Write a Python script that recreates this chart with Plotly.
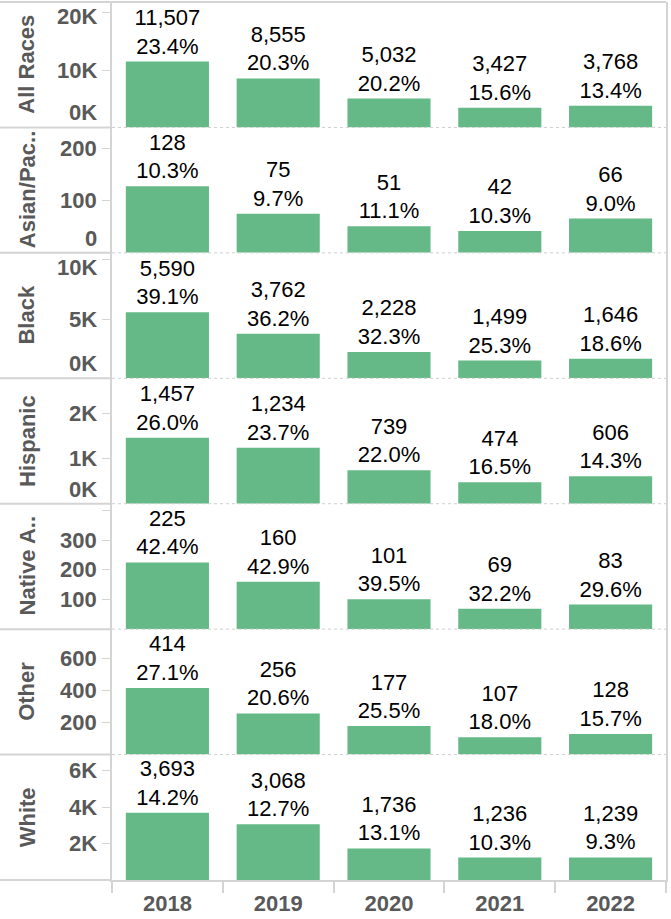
import plotly.graph_objects as go
from plotly.subplots import make_subplots

years = ["2018", "2019", "2020", "2021", "2022"]
races = ["All Races", "Asian/Pac..", "Black", "Hispanic", "Native A..", "Other", "White"]

counts_all = [11507, 8555, 5032, 3427, 3768]
counts_asian = [128, 75, 51, 42, 66]
counts_black = [5590, 3762, 2228, 1499, 1646]
counts_hispanic = [1457, 1234, 739, 474, 606]
counts_native = [225, 160, 101, 69, 83]
counts_other = [414, 256, 177, 107, 128]
counts_white = [3693, 3068, 1736, 1236, 1239]

pct_all = [23.4, 20.3, 20.2, 15.6, 13.4]
pct_asian = [10.3, 9.7, 11.1, 10.3, 9.0]
pct_black = [39.1, 36.2, 32.3, 25.3, 18.6]
pct_hispanic = [26.0, 23.7, 22.0, 16.5, 14.3]
pct_native = [42.4, 42.9, 39.5, 32.2, 29.6]
pct_other = [27.1, 20.6, 25.5, 18.0, 15.7]
pct_white = [14.2, 12.7, 13.1, 10.3, 9.3]

y_max = [21900, 241, 10600, 2770, 423, 780, 6900]
tick_vals = [
    [0, 10000, 20000],
    [0, 100, 200],
    [0, 5000, 10000],
    [0, 1000, 2000],
    [100, 200, 300, 400],
    [200, 400, 600],
    [2000, 4000, 6000],
]
tick_text = [
    ["0K", "10K", "20K"],
    ["0", "100", "200"],
    ["0K", "5K", "10K"],
    ["0K", "1K", "2K"],
    ["100", "200", "300", ""],
    ["200", "400", "600"],
    ["2K", "4K", "6K"],
]

counts = [counts_all, counts_asian, counts_black, counts_hispanic, counts_native, counts_other, counts_white]
pcts = [pct_all, pct_asian, pct_black, pct_hispanic, pct_native, pct_other, pct_white]

W, H = 671, 919
ML, MR, MT, MB = 112, 5, 2, 39
plot_w = W - ML - MR
plot_h = H - MT - MB
n = len(races)
pane_h = plot_h / n

FONT = "Liberation Sans, Arial, sans-serif"
GRAY_TXT = "#595959"
LINE = "#d4d4d4"
BAR = "#64b987"
FS_VAL = 22
FS_LAB = 22

fig = make_subplots(rows=n, cols=1, shared_xaxes=True, vertical_spacing=0)

annotations = []
shapes = []
for i in range(n):
    r = i + 1
    texts = [f"{c:,}<br>{p:.1f}%" for c, p in zip(counts[i], pcts[i])]
    fig.add_trace(
        go.Bar(
            x=years, y=counts[i], text=texts, textposition="outside",
            textfont=dict(family=FONT, size=FS_VAL, color="#000000"),
            marker=dict(color=BAR, line=dict(width=0)),
            width=0.75, cliponaxis=False, constraintext="none",
            hoverinfo="skip", showlegend=False,
        ),
        row=r, col=1,
    )
    fig.update_yaxes(
        range=[0, y_max[i]], tickvals=tick_vals[i], showticklabels=False,
        ticks="outside", ticklen=8, tickwidth=1, tickcolor=LINE,
        showgrid=False, zeroline=False, showline=True, mirror=True,
        linecolor=LINE, linewidth=2, fixedrange=True,
        row=r, col=1,
    )
    yref = "y" if r == 1 else f"y{r}"
    half = FS_LAB * 0.65
    for v, t in zip(tick_vals[i], tick_text[i]):
        if not t:
            continue
        p = v / y_max[i] * pane_h
        if p < half:
            yy, ya = 0, "bottom"
        elif pane_h - p < half:
            yy, ya = y_max[i], "top"
        else:
            yy, ya = v, "middle"
        annotations.append(dict(
            text=t, xref="paper", x=0, xanchor="right", xshift=-13,
            yref=yref, y=yy, yanchor=ya, showarrow=False,
            font=dict(family=FONT, size=FS_LAB, color=GRAY_TXT, weight="bold"),
        ))
    d0 = 1 - (i + 1) / n
    d1 = 1 - i / n
    annotations.append(dict(
        text=races[i], xref="paper", x=0, xanchor="center", xshift=-85,
        yref="paper", y=(d0 + d1) / 2, yanchor="middle", textangle=-90,
        showarrow=False,
        font=dict(family=FONT, size=FS_LAB, color=GRAY_TXT, weight="bold"),
    ))
    shapes.append(dict(type="line", xref="paper", yref="paper",
                       x0=-ML / plot_w, x1=0, y0=d0, y1=d0,
                       line=dict(color=LINE, width=2)))
    if r < n:
        shapes.append(dict(type="line", xref="paper", yref="paper",
                           x0=0, x1=1, y0=d0, y1=d0,
                           line=dict(color="#cfcfcf", width=1, dash="dot")))

shapes.append(dict(type="line", xref="paper", yref="paper",
                   x0=-ML / plot_w, x1=1, y0=1, y1=1,
                   line=dict(color=LINE, width=2)))

for r in range(1, n + 1):
    fig.update_xaxes(
        type="category", showgrid=False, zeroline=False, fixedrange=True,
        showline=(r == n), linecolor=LINE, linewidth=2,
        ticks="outside" if r == n else "", tickson="boundaries",
        ticklen=11, tickcolor=LINE, tickwidth=2, ticklabelstandoff=3,
        showticklabels=(r == n),
        tickfont=dict(family=FONT, size=FS_LAB, color=GRAY_TXT, weight="bold"),
        row=r, col=1,
    )

fig.update_layout(
    width=W, height=H,
    margin=dict(l=ML, r=MR, t=MT, b=MB),
    plot_bgcolor="white", paper_bgcolor="white",
    bargap=0.25, annotations=annotations, shapes=shapes,
    font=dict(family=FONT),
)

fig.write_html(
    "out.html",
    config={"displayModeBar": False},
    post_script="document.body.style.margin='0';document.body.style.padding='0';document.body.style.overflow='hidden';",
)
